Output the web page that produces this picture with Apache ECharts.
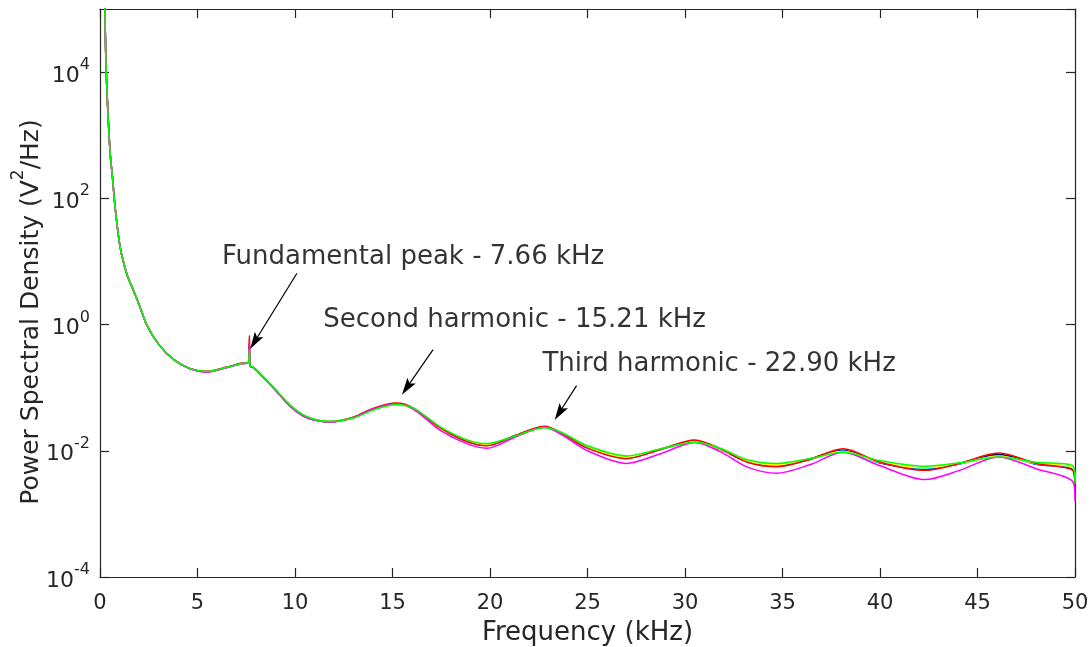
<!DOCTYPE html>
<html><head><meta charset="utf-8">
<script src="https://cdn.jsdelivr.net/npm/echarts@6/dist/echarts.min.js"></script>
<style>html,body{margin:0;padding:0;background:#fff}#c{width:1091px;height:647px}</style>
</head><body><div id="c"></div>
<script>
// ---- data ----
const freqKHz = [0.1,0.25,0.32,0.51,0.65,0.77,1.03,1.37,1.71,2.05,2.39,3.0,3.76,4.62,5.47,6.5,7.2,7.55,7.62,7.66,7.70,7.87,8.9,9.75,10.6,11.8,13.0,14.0,15.2,16.1,17.45,18.8,19.85,21.3,22.8,23.6,25.0,27.0,28.75,30.5,31.8,33.2,34.7,36.4,38.1,40.0,42.3,44.0,46.1,48.0,49.9,50.0];

const psdBlack   = [1e7,1e5,1e4,575,200,75,17,6.4,3.5,1.9,1.0,0.49,0.28,0.20,0.180,0.210,0.240,0.245,0.250,0.50,0.220,0.210,0.100,0.052,0.034,0.029,0.034,0.046,0.055,0.046,0.023,0.0145,0.0125,0.0175,0.0240,0.0195,0.0113,0.0080,0.0107,0.0142,0.0107,0.0068,0.0060,0.0075,0.0102,0.0065,0.0053,0.0063,0.0087,0.0063,0.0053,0.0032];
const psdBlue    = [1e7,1e5,1e4,575,200,75,17,6.4,3.5,1.9,1.0,0.49,0.28,0.20,0.179,0.209,0.239,0.244,0.249,0.45,0.220,0.210,0.100,0.051,0.0335,0.0285,0.0335,0.0455,0.0545,0.046,0.022,0.0142,0.0122,0.0172,0.0238,0.0192,0.0111,0.0077,0.0105,0.0140,0.0105,0.0067,0.0057,0.0073,0.0100,0.0064,0.0051,0.0061,0.0085,0.0061,0.0050,0.0027];
const psdCyan    = [1e7,1e5,1e4,575,200,75,17,6.4,3.5,1.9,1.0,0.49,0.28,0.20,0.180,0.210,0.240,0.245,0.250,0.42,0.220,0.210,0.100,0.052,0.034,0.029,0.034,0.045,0.054,0.045,0.022,0.0143,0.0124,0.0172,0.0236,0.0192,0.0112,0.0079,0.0106,0.0139,0.0106,0.0068,0.0059,0.0074,0.0098,0.0065,0.0053,0.0062,0.0083,0.0062,0.0053,0.0031];
const psdYellow  = [1e7,1e5,1e4,575,200,75,17,6.4,3.5,1.9,1.0,0.49,0.28,0.20,0.180,0.210,0.240,0.245,0.250,0.42,0.220,0.210,0.100,0.052,0.034,0.029,0.034,0.045,0.054,0.045,0.022,0.0144,0.0125,0.0173,0.0235,0.0193,0.0113,0.0080,0.0107,0.0139,0.0106,0.0069,0.0060,0.0074,0.0097,0.0066,0.0054,0.0062,0.0082,0.0063,0.0054,0.0033];
const psdRed     = [1e7,1e5,1e4,575,200,75,17,6.4,3.5,1.9,1.0,0.49,0.28,0.20,0.181,0.212,0.243,0.248,0.252,0.67,0.220,0.210,0.100,0.052,0.034,0.0288,0.034,0.047,0.057,0.047,0.023,0.0140,0.0120,0.0175,0.0245,0.0196,0.0110,0.0075,0.0105,0.0148,0.0108,0.0066,0.0056,0.0073,0.0108,0.0066,0.0049,0.0062,0.0092,0.0063,0.0048,0.0024];
const psdMagenta = [1e7,1e5,1e4,575,200,75,17,6.4,3.5,1.9,1.0,0.49,0.28,0.198,0.176,0.207,0.238,0.243,0.248,0.50,0.218,0.207,0.098,0.051,0.0335,0.0285,0.0335,0.046,0.055,0.045,0.021,0.0130,0.0110,0.0165,0.0235,0.0185,0.0100,0.0063,0.0090,0.0135,0.0097,0.0055,0.0044,0.0060,0.0095,0.0058,0.0035,0.0048,0.0080,0.0052,0.0032,0.0016];
const psdGreen   = [1e7,1e5,1e4,575,200,75,17,6.4,3.5,1.9,1.0,0.49,0.28,0.20,0.180,0.210,0.240,0.245,0.250,0.40,0.220,0.210,0.101,0.053,0.035,0.029,0.033,0.044,0.054,0.047,0.024,0.0150,0.0130,0.0172,0.0232,0.0200,0.0120,0.0083,0.0107,0.0136,0.0110,0.0072,0.0063,0.0075,0.0095,0.0070,0.0057,0.0064,0.0080,0.0066,0.0058,0.0030];

const annotationTexts = ['Fundamental peak - 7.66 kHz', 'Second harmonic - 15.21 kHz', 'Third harmonic - 22.90 kHz'];
const xAxisTitle = 'Frequency (kHz)';
const yAxisTitle = ['Power Spectral Density (V', '2', '/Hz)'];
const yTickBase = '10';

// ---- chart ----
const FONT = 'DejaVu Sans';
const AX = '#262626';
const seriesDefs = [
  {name: 'k', color: '#000000', data: psdBlack},
  {name: 'b', color: '#0000ff', data: psdBlue},
  {name: 'c', color: '#00ffff', data: psdCyan},
  {name: 'y', color: '#ffff00', data: psdYellow},
  {name: 'r', color: '#ff0000', data: psdRed},
  {name: 'm', color: '#ff00ff', data: psdMagenta},
  {name: 'g', color: '#00ff00', data: psdGreen}
];

const chart = echarts.init(document.getElementById('c'), null, {renderer: 'canvas'});

const boxAxisCommon = {
  axisLine: {show: true, onZero: false, lineStyle: {color: AX, width: 1.2}},
  axisTick: {show: true, inside: true, length: 9, lineStyle: {color: AX, width: 1.2}},
  splitLine: {show: false}
};

const ARROW = 'path://M0,0 L5,17 L0,13.5 L-5,17 Z';

const option = {
  animation: false,
  backgroundColor: '#ffffff',
  grid: {left: 100, right: 16, top: 9, bottom: 70, containLabel: false, outerBoundsMode: 'none'},
  xAxis: [
    Object.assign({
      type: 'value', min: 0, max: 50, interval: 5, position: 'bottom',
      axisLabel: {show: true, fontFamily: FONT, fontSize: 21, color: AX, margin: 16},
      name: xAxisTitle, nameLocation: 'middle', nameGap: 43, nameMoveOverlap: false,
      nameTextStyle: {fontFamily: FONT, fontSize: 26, color: AX}
    }, boxAxisCommon),
    Object.assign({
      type: 'value', min: 0, max: 50, interval: 5, position: 'top',
      axisLabel: {show: false}
    }, boxAxisCommon)
  ],
  yAxis: [
    {
      type: 'log', logBase: 10, min: 1e-4, max: 1e5, position: 'left',
      axisLine: {show: false}, axisTick: {show: false}, axisLabel: {show: false}, splitLine: {show: false}
    },
    Object.assign({
      type: 'value', min: -4, max: 5, interval: 2, position: 'left',
      axisLabel: {
        show: true, margin: 10, showMaxLabel: false,
        formatter: v => (v > 4 ? '' : '{b|' + yTickBase + '}{s|' + v + '}'),
        rich: {
          b: {fontFamily: FONT, fontSize: 22, color: AX, lineHeight: 30, verticalAlign: 'bottom'},
          s: {fontFamily: FONT, fontSize: 16, color: AX, verticalAlign: 'top'}
        }
      },
      name: '{b|' + yAxisTitle[0] + '}{s|' + yAxisTitle[1] + '}{b|' + yAxisTitle[2] + '}',
      nameLocation: 'middle', nameGap: 56, nameMoveOverlap: false,
      nameTextStyle: {
        padding: [0, 38, 0, 0],
        rich: {
          b: {fontFamily: FONT, fontSize: 25, color: AX, lineHeight: 34, verticalAlign: 'bottom'},
          s: {fontFamily: FONT, fontSize: 17, color: AX, verticalAlign: 'top'}
        }
      }
    }, boxAxisCommon),
    Object.assign({
      type: 'value', min: -4, max: 5, interval: 2, position: 'right',
      axisLabel: {show: false}
    }, boxAxisCommon)
  ],
  series: seriesDefs.map(s => ({
    type: 'line', name: s.name, xAxisIndex: 0, yAxisIndex: 0,
    data: freqKHz.map((f, i) => [f, s.data[i]]),
    symbol: 'none', smooth: 0.3, clip: true, silent: true,
    lineStyle: {color: s.color, width: 1.5}, itemStyle: {color: s.color}
  })).concat([{
    type: 'scatter', name: 'notes', xAxisIndex: 0, yAxisIndex: 0, silent: true,
    symbolSize: 0,
    data: [[6.26, 11.5], [11.45, 1.16], [22.69, 0.232]],
    label: {
      show: true, position: 'right', distance: 0,
      formatter: p => annotationTexts[p.dataIndex],
      fontFamily: FONT, fontSize: 26, color: '#000000'
    },
    markLine: {
      silent: true, animation: false,
      symbol: ['none', ARROW], symbolSize: 17, symbolKeepAspect: true,
      label: {show: false},
      lineStyle: {color: '#000000', width: 1.2, type: 'solid'},
      itemStyle: {color: '#000000'},
      data: [
        [{coord: [10.1, 6.5]}, {coord: [7.93, 0.535]}],
        [{coord: [17.08, 0.40]}, {coord: [15.73, 0.100]}],
        [{coord: [24.44, 0.1076]}, {coord: [23.55, 0.040]}]
      ]
    }
  }])
};
chart.setOption(option);
</script>
</body></html>
